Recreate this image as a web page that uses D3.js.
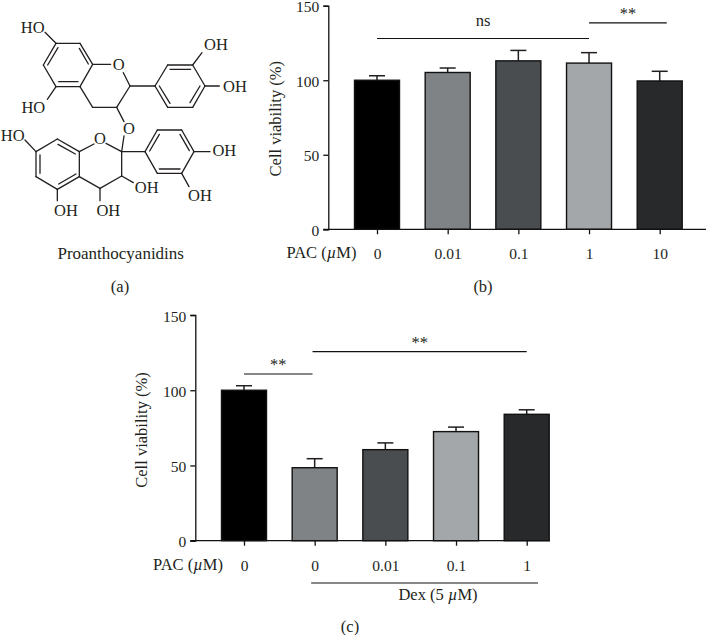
<!DOCTYPE html>
<html>
<head>
<meta charset="utf-8">
<script src="https://cdn.jsdelivr.net/npm/d3@7"></script>
<style>
  html, body { margin: 0; padding: 0; background: #fff; }
  svg { display: block; }
  text { font-family: "Liberation Serif", serif; fill: #231f20; }
</style>
</head>
<body>
<svg id="chart" width="706" height="635"></svg>
<script>
// values
const doseB = ["0", "0.01", "0.1", "1", "10"];
const meanB = [100, 105.2, 113, 111.5, 99.5];
const errB = [3, 3, 7, 7, 6.5];

const doseC = ["0", "0", "0.01", "0.1", "1"];
const meanC = [100, 48.5, 60.5, 72.5, 84];
const errC = [3, 6, 4.5, 3, 3];

const barColors = ["#000000", "#808385", "#4a4d50", "#a4a7a9", "#28292b"];
const yTicks = [0, 50, 100, 150];

// brackets: from bar, to bar, level in % and label
const bracketsB = [[0, 3, 128, "ns"], [3, 4.1, 138.5, "**"]];
const bracketsC = [[0, 0.97, 110.8, "**"], [0.97, 4, 125.7, "**"]];

// structure of panel (a), traced at 3x
const bonds = [
  [168,130,240,130],[240,130,278,193],[278,193,240,260],[240,260,168,260],[168,260,130,195],[130,195,168,130],
  [143,195,174,143],[238,145,265,192],[176,245,234,245],
  [168,130,135,97],[168,260,142,298],
  [278,193,332,193],[370,218,390,258],[390,258,350,322],[350,322,278,322],[278,322,240,260],
  [350,322,372,365],[372,408,365,455],
  [390,258,465,258],[465,258,503,195],[503,195,578,195],[578,195,615,258],[615,258,578,322],[578,322,503,322],[503,322,465,258],
  [510,208,572,208],[600,258,570,308],[478,258,510,310],
  [578,195,606,158],[615,258,658,258],
  [172,417,238,455],[238,455,238,530],[238,530,172,568],[172,568,108,530],[108,530,108,455],[108,455,172,417],
  [120,465,120,520],[176,552,228,522],[174,433,226,462],
  [108,455,75,420],[172,568,172,602],
  [238,455,282,432],[318,430,365,455],[365,455,365,528],[365,528,300,565],[300,565,238,530],
  [300,565,300,602],[365,528,400,548],
  [365,455,435,455],[435,455,472,390],[472,390,545,390],[545,390,582,455],[582,455,545,520],[545,520,472,520],[472,520,435,455],
  [449,453,478,403],[540,403,568,452],[478,507,540,507],
  [582,455,630,455],[545,520,567,560]
];
const atoms = [
  ["HO",98,82],["HO",100,323],["O",356,194],["OH",648,134],["OH",705,258],["O",387,385],
  ["HO",38,405],["O",300,415],["OH",673,452],["OH",440,563],["OH",600,587],["OH",198,632],["OH",325,632]
];

const svg = d3.select("#chart");
const tickFont = 15.5;
const labelFont = 16.5;

function doseLabel(sel, prefix) {
  sel.append("tspan").text(prefix);
  sel.append("tspan").attr("font-style", "italic").text("\u00b5");
  sel.append("tspan").text("M)");
}

function drawPanel(o) {
  const x = d3.scaleLinear().domain([0, 4]).range(o.xRange);
  const y = d3.scaleLinear().domain([0, 150]).range(o.yRange);
  const g = svg.append("g");

  // error bars go under the bars
  const err = g.append("g").attr("stroke", "#231f20").attr("stroke-width", 1.5);
  o.mean.forEach((m, i) => {
    err.append("line").attr("x1", x(i)).attr("x2", x(i)).attr("y1", y(m)).attr("y2", y(m + o.err[i]));
    err.append("line").attr("x1", x(i) - 8).attr("x2", x(i) + 8).attr("y1", y(m + o.err[i])).attr("y2", y(m + o.err[i]));
  });

  g.append("g").selectAll("rect")
    .data(o.mean)
    .join("rect")
    .attr("x", (d, i) => x(i) - 22.5)
    .attr("width", 45)
    .attr("y", d => y(d))
    .attr("height", d => y(0) - y(d))
    .attr("fill", (d, i) => barColors[i])
    .attr("stroke", "#111")
    .attr("stroke-width", 1.4);

  const yAxis = g.append("g")
    .attr("transform", `translate(${o.xAxisAt},0)`)
    .call(d3.axisLeft(y).tickValues(yTicks).tickSize(5).tickPadding(4));
  yAxis.selectAll("text").attr("dy", "0.4em");
  const xAxis = g.append("g")
    .attr("transform", `translate(0,${y(0)})`)
    .call(d3.axisBottom(x).tickValues(d3.range(5)).tickFormat(i => o.dose[i]).tickSize(5).tickPadding(14).tickSizeOuter(0));
  xAxis.select(".domain").attr("d", `M${o.xAxisAt - 5},0H${o.xEnd}`);
  [xAxis, yAxis].forEach(a => {
    a.selectAll("text").attr("font-size", tickFont).attr("font-family", "Liberation Serif").attr("fill", "#231f20");
    a.selectAll("path,line").attr("stroke", "#111").attr("stroke-width", 1.3);
  });

  g.append("text")
    .attr("transform", `translate(${o.titleX},${o.titleY}) rotate(-90)`)
    .attr("text-anchor", "middle")
    .attr("font-size", labelFont)
    .text("Cell viability (%)");

  g.append("text")
    .attr("x", o.pacX)
    .attr("y", y(0) + 29)
    .attr("font-size", labelFont)
    .call(doseLabel, "PAC (");

  o.brackets.forEach(b => {
    g.append("line")
      .attr("x1", x(b[0])).attr("x2", x(b[1]))
      .attr("y1", y(b[2])).attr("y2", y(b[2]))
      .attr("stroke", "#111").attr("stroke-width", 1.2);
    g.append("text")
      .attr("x", (x(b[0]) + x(b[1])) / 2)
      .attr("y", y(b[2]) - (b[3] === "ns" ? 12 : 4))
      .attr("text-anchor", "middle")
      .attr("font-size", labelFont)
      .attr("fill", b[3] === "ns" ? "#231f20" : "#555")
      .text(b[3]);
  });
  return { x, y, g };
}

drawPanel({
  dose: doseB, mean: meanB, err: errB, brackets: bracketsB,
  xRange: [377, 659.7], yRange: [229.3, 5.7], xAxisAt: 328.3, xEnd: 706,
  titleX: 281, titleY: 118.7, pacX: 286.5
});

const c = drawPanel({
  dose: doseC, mean: meanC, err: errC, brackets: bracketsC,
  xRange: [244, 526.7], yRange: [540.7, 315], xAxisAt: 195.3, xEnd: 550,
  titleX: 147, titleY: 430, pacX: 153
});

// Dex underline below panel (c)
c.g.append("line")
  .attr("x1", c.x(0.95)).attr("x2", c.x(4.16))
  .attr("y1", 583).attr("y2", 583)
  .attr("stroke", "#111").attr("stroke-width", 1.2);
c.g.append("text")
  .attr("x", 438).attr("y", 600)
  .attr("text-anchor", "middle")
  .attr("font-size", labelFont)
  .call(doseLabel, "Dex (5 ");

// panel (a)
const s = d3.scaleLinear().domain([0, 3]).range([0, 1]);
const mol = svg.append("g");
mol.selectAll("line")
  .data(bonds)
  .join("line")
  .attr("x1", d => s(d[0])).attr("y1", d => s(d[1]))
  .attr("x2", d => s(d[2])).attr("y2", d => s(d[3]))
  .attr("stroke", "#231f20").attr("stroke-width", 1.3).attr("stroke-linecap", "round");
mol.selectAll("text")
  .data(atoms)
  .join("text")
  .attr("x", d => s(d[1])).attr("y", d => s(d[2]))
  .attr("dy", "0.35em")
  .attr("text-anchor", "middle")
  .attr("font-size", 16.5)
  .text(d => d[0]);

const captions = [["Proanthocyanidins", 120.7, 259, 17], ["(a)", 120, 292, 16.5], ["(b)", 483, 292, 16.5], ["(c)", 350, 632, 16.5]];
svg.append("g").selectAll("text")
  .data(captions)
  .join("text")
  .attr("x", d => d[1]).attr("y", d => d[2])
  .attr("text-anchor", "middle")
  .attr("font-size", d => d[3])
  .text(d => d[0]);
</script>
</body>
</html>
